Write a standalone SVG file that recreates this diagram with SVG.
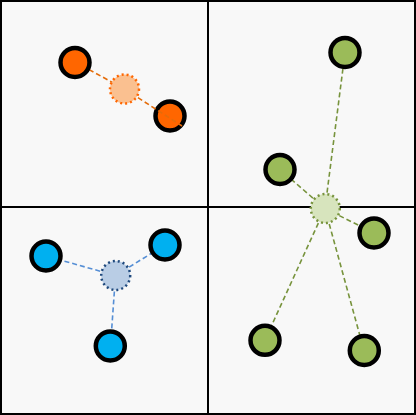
<svg xmlns="http://www.w3.org/2000/svg" width="416" height="415" viewBox="0 0 416 415">
<style>
.node{stroke:#000;stroke-width:4.5}
.cen{stroke-width:2.5;stroke-dasharray:2 3}
.ln{stroke-width:1.6;stroke-dasharray:5 3;fill:none}
.orange{fill:#ff6600}
.green{fill:#9bbb59}
.blue{fill:#00b0f0}
</style>
<rect x="1" y="1" width="414" height="413" fill="#f8f8f8" stroke="#000" stroke-width="2"/>
<g id="grid" stroke="#000" stroke-width="2">
<line x1="208" y1="1" x2="208" y2="414"/>
<line x1="1" y1="207" x2="415" y2="207"/>
</g>
<g id="o2"><circle class="node orange" cx="170" cy="116" r="14.5"/></g>
<g id="connectors">
<line class="ln" stroke="#e46c0a" x1="75" y1="62" x2="124.5" y2="89"/>
<line class="ln" stroke="#e46c0a" x1="124.5" y1="89" x2="182" y2="126"/>
<g stroke="#77933c">
<line class="ln" x1="325" y1="208.5" x2="345" y2="52.5"/>
<line class="ln" x1="325" y1="208.5" x2="280" y2="169.5"/>
<line class="ln" x1="325" y1="208.5" x2="374" y2="233"/>
<line class="ln" x1="325" y1="208.5" x2="265" y2="340"/>
<line class="ln" x1="325" y1="208.5" x2="364" y2="350.5"/>
</g>
<g stroke="#558ed5">
<line class="ln" x1="115.5" y1="275.5" x2="46" y2="256"/>
<line class="ln" x1="115.5" y1="275.5" x2="165" y2="245"/>
<line class="ln" x1="115.5" y1="275.5" x2="110.5" y2="346"/>
</g>
</g>
<g id="o1"><circle class="node orange" cx="75" cy="62.5" r="14.5"/></g>
<g id="oc"><circle class="cen" fill="#fac090" stroke="#ff6600" cx="124.5" cy="89" r="14.5"/></g>
<g id="g1"><circle class="node green" cx="345" cy="52.5" r="14.5"/></g>
<g id="g2"><circle class="node green" cx="280" cy="169.5" r="14.5"/></g>
<g id="g3"><circle class="node green" cx="374" cy="233" r="14.5"/></g>
<g id="g4"><circle class="node green" cx="265" cy="340.3" r="14.5"/></g>
<g id="g5"><circle class="node green" cx="364.3" cy="350.5" r="14.5"/></g>
<g id="gc"><circle class="cen" fill="#d7e4bd" stroke="#77933c" cx="325.3" cy="208.5" r="14.5"/></g>
<g id="b1"><circle class="node blue" cx="46" cy="256" r="14.5"/></g>
<g id="b2"><circle class="node blue" cx="165" cy="245" r="14.5"/></g>
<g id="b3"><circle class="node blue" cx="110.3" cy="346" r="14.5"/></g>
<g id="bc"><circle class="cen" fill="#b9cde5" stroke="#1f497d" cx="115.7" cy="275.5" r="14.5"/></g>
</svg>
